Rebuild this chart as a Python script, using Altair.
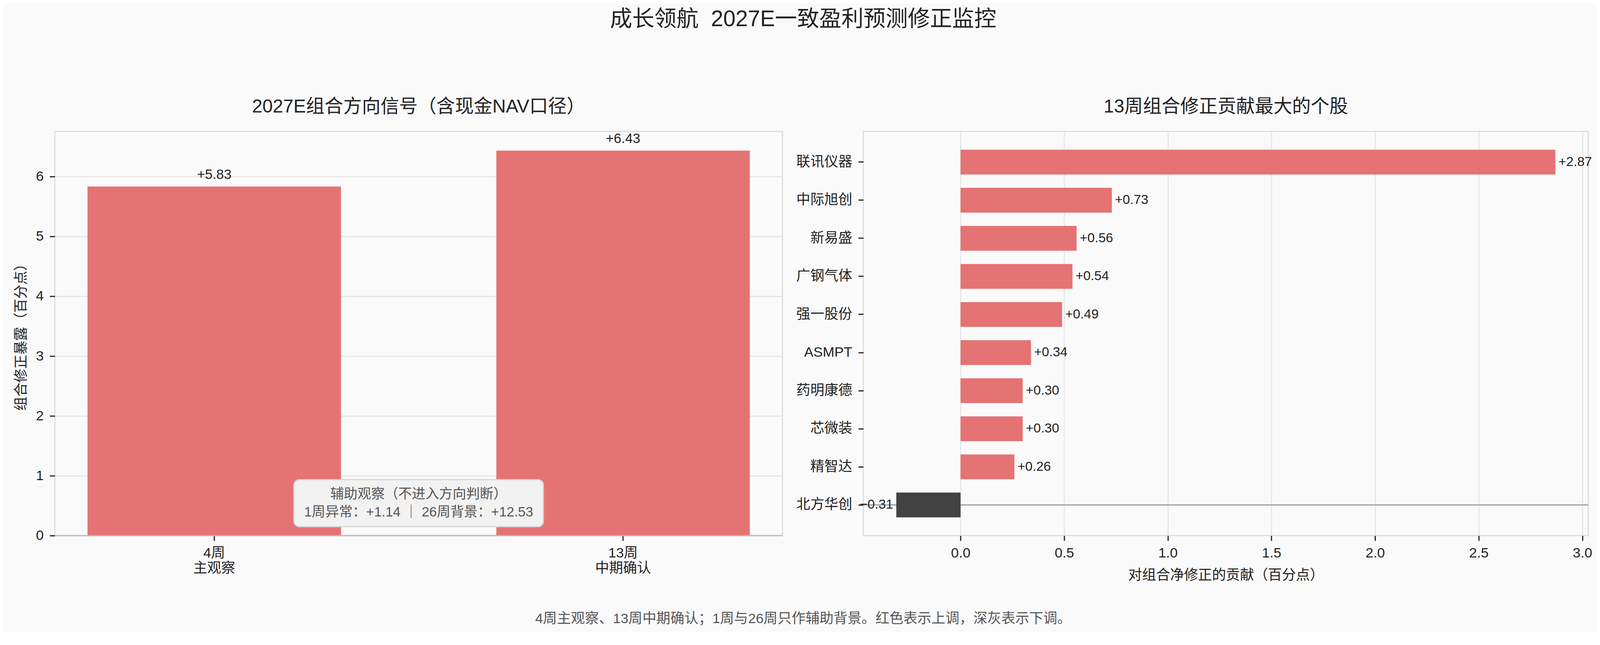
import altair as alt
import pandas as pd

# ---------------- text ----------------
SUPTITLE = "成长领航\u00a0\u00a02027E一致盈利预测修正监控"
LEFT_TITLE = "2027E组合方向信号（含现金NAV口径）"
RIGHT_TITLE = "13周组合修正贡献最大的个股"
FOOTER = "4周主观察、13周中期确认；1周与26周只作辅助背景。红色表示上调，深灰表示下调。"
LEFT_YTITLE = "组合修正暴露（百分点）"
RIGHT_XTITLE = "对组合净修正的贡献（百分点）"

# ---------------- data ----------------
horizons = ["4周\n主观察", "13周\n中期确认"]
exposure = [5.83, 6.43]

aux_title = "辅助观察（不进入方向判断）"
aux_names = ["1周异常", "26周背景"]
aux_values = [1.14, 12.53]

stocks = ["联讯仪器", "中际旭创", "新易盛", "广钢气体", "强一股份",
          "ASMPT", "药明康德", "芯微装", "精智达", "北方华创"]
contrib = [2.87, 0.73, 0.56, 0.54, 0.49, 0.34, 0.30, 0.30, 0.26, -0.31]

left_yticks = [0, 1, 2, 3, 4, 5, 6]
right_xticks = [0.0, 0.5, 1.0, 1.5, 2.0, 2.5, 3.0]

# ---------------- style ----------------
FONT = "Liberation Sans, Noto Sans CJK SC"
RED = "#e57373"
DARK = "#424242"
BG = "#fafafa"
TXT = "#222222"
W1, W2, H = 1873, 1866, 1040


def fmt(v):
    return f"{v:+.2f}".replace("-", "\u2212")


aux_line = f"{aux_names[0]}：{fmt(aux_values[0])} ｜ {aux_names[1]}：{fmt(aux_values[1])}"

# ---------------- left panel ----------------
left_df = pd.DataFrame({"horizon": horizons, "value": exposure,
                        "label": [fmt(v) for v in exposure]})

x_left = alt.X("horizon:N", sort=horizons,
               scale=alt.Scale(paddingInner=0.38, paddingOuter=0.08),
               axis=alt.Axis(title=None, labelAngle=0,
                             labelExpr="split(datum.label, '\\n')",
                             labelLineHeight=39, labelPadding=15, grid=False))
y_left = alt.Y("value:Q", scale=alt.Scale(domain=[0, 6.75], nice=False),
               axis=alt.Axis(title=LEFT_YTITLE, values=left_yticks, format="d",
                             grid=True, labelPadding=16, titlePadding=18))

l_bars = alt.Chart(left_df).mark_bar(color=RED).encode(x=x_left, y=y_left)
l_text = alt.Chart(left_df).mark_text(baseline="alphabetic", dy=-20, fontSize=35,
                                      color=TXT).encode(x=x_left, y=y_left, text="label:N")
l_zero = alt.Chart(pd.DataFrame({"value": [0.0]})).mark_rule(
    color="#bbbbbb", strokeWidth=3).encode(y=y_left)
l_box = alt.Chart(pd.DataFrame({"k": [0]})).mark_rect(
    fill="#f2f2f2", stroke="#d6d6d6", strokeWidth=3, cornerRadius=14).encode(
    x=alt.value(W1 / 2 - 321), x2=alt.value(W1 / 2 + 321),
    y=alt.value(896), y2=alt.value(1017))
l_note = alt.Chart(pd.DataFrame({"k": [0]})).mark_text(
    text=[aux_title, aux_line], align="center", baseline="top", lineHeight=46,
    fontSize=35, color="#555555").encode(x=alt.value(W1 / 2), y=alt.value(917))

left = alt.layer(l_bars, l_zero, l_text, l_box, l_note).properties(
    width=W1, height=H,
    title=alt.TitleParams(LEFT_TITLE, fontSize=48, offset=39, anchor="middle"))

# ---------------- right panel ----------------
right_df = pd.DataFrame({
    "stock": stocks, "contrib": contrib, "zero": [0.0] * len(stocks),
    "dir": ["up" if v >= 0 else "down" for v in contrib],
    "label": [fmt(v) for v in contrib]})

x_right = alt.X("contrib:Q", scale=alt.Scale(domain=[-0.469, 3.029], nice=False, zero=False),
                axis=alt.Axis(title=RIGHT_XTITLE, values=right_xticks, format=".1f",
                              grid=True, labelPadding=15, titlePadding=22))
y_right = alt.Y("stock:N", sort=stocks,
                scale=alt.Scale(paddingInner=0.35, paddingOuter=0.48),
                axis=alt.Axis(title=None, grid=False, labelPadding=16))

r_rule = alt.Chart(pd.DataFrame({"stock": [stocks[-1]]})).mark_rule(
    color="#9e9e9e", strokeWidth=3).encode(y=y_right)
r_bars = alt.Chart(right_df).mark_bar().encode(
    x=x_right, x2="zero:Q", y=y_right,
    color=alt.Color("dir:N", scale=alt.Scale(domain=["up", "down"], range=[RED, DARK]),
                    legend=None))
r_pos = alt.Chart(right_df).transform_filter("datum.contrib >= 0").mark_text(
    align="left", baseline="middle", dx=8, fontSize=34, color=TXT).encode(
    x=x_right, y=y_right, text="label:N")
r_neg = alt.Chart(right_df).transform_filter("datum.contrib < 0").mark_text(
    align="right", baseline="middle", dx=-8, fontSize=34, color=TXT).encode(
    x=x_right, y=y_right, text="label:N")

right = alt.layer(r_rule, r_bars, r_pos, r_neg).properties(
    width=W2, height=H,
    title=alt.TitleParams(RIGHT_TITLE, fontSize=48, offset=39, anchor="middle"))

# ---------------- assemble ----------------
inner = alt.hconcat(left, right, spacing=30).properties(
    title=alt.TitleParams(FOOTER, orient="bottom", offset=76, fontSize=36,
                          color="#555555", anchor="middle"))

chart = alt.vconcat(inner).properties(
    title=alt.TitleParams(SUPTITLE, fontSize=57, offset=171, anchor="middle"),
    padding={"left": 27, "top": 8, "right": 10, "bottom": 10},
    background=BG,
).configure(font=FONT).configure_view(
    stroke="#dddddd", strokeWidth=3
).configure_title(
    font=FONT, fontWeight="normal", color=TXT
).configure_axis(
    labelFont=FONT, titleFont=FONT, labelFontSize=36, titleFontSize=36,
    labelColor=TXT, titleColor=TXT, titleFontWeight="normal",
    tickColor=TXT, tickWidth=3, tickSize=13, domain=False,
    gridColor="#e6e6e6", gridWidth=3,
)

chart.save("out.html", embed_options={"renderer": "svg", "actions": False})
